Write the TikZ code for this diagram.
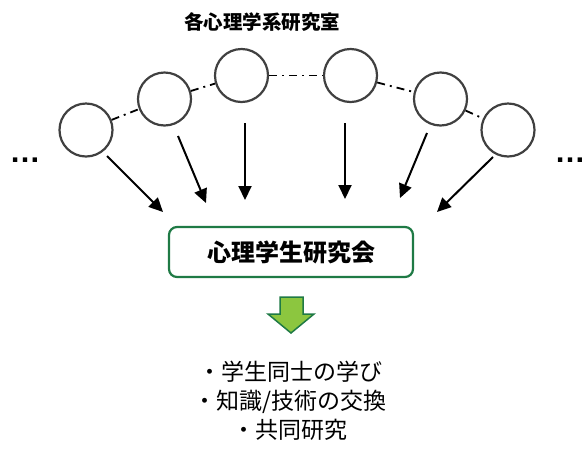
\documentclass[tikz,border=0pt]{standalone}
\usepackage{fontspec}
\setmainfont{Noto Sans CJK JP}
\newfontfamily\dotfont{Liberation Sans}
\usetikzlibrary{arrows.meta}
\definecolor{boxgreen}{HTML}{1F7A45}
\definecolor{arrowfill}{HTML}{8CC63F}
\definecolor{circgray}{HTML}{404040}
\tikzset{
  lab/.style={circle, draw=circgray, line width=2.2pt, minimum size=53pt, inner sep=0pt},
  link/.style={line width=1.8pt, dash pattern=on 8pt off 5pt on 2pt off 5pt},
  feed/.style={line width=2pt, -{Triangle[length=14pt,width=13pt]}},
  hub/.style={draw=boxgreen, line width=2.2pt, rounded corners=8pt, minimum width=244pt, minimum height=50pt, font=\fontsize{24}{28}\selectfont\bfseries},
}
\begin{document}
\begin{tikzpicture}[x=1pt,y=-1pt]
\useasboundingbox (0,0) rectangle (585,448);
\node[font=\fontsize{19.5}{22}\selectfont\bfseries] (title) at (262,22) {各心理学系研究室};
\node[lab] (c1) at (86,130) {};
\node[lab] (c2) at (164.5,99) {};
\node[lab] (c3) at (241.5,75.5) {};
\node[lab] (c4) at (350.5,75.5) {};
\node[lab] (c5) at (440.5,99) {};
\node[lab] (c6) at (508,130) {};
\draw[link] (c1) -- (c2);
\draw[link] (c2) -- (c3);
\draw[link] (c3) -- (c4);
\draw[link] (c4) -- (c5);
\draw[link] (c5) -- (c6);
\node[font=\dotfont\fontsize{31}{31}\selectfont\bfseries] (dl) at (25,160) {…};
\node[font=\dotfont\fontsize{31}{31}\selectfont\bfseries] (dr) at (570,160) {…};
\node[hub] (hub) at (291,252) {心理学生研究会};
\coordinate (s1) at (107,156); \coordinate (e1) at (163,212);
\coordinate (s2) at (178,136); \coordinate (e2) at (206,203);
\coordinate (s3) at (245,123); \coordinate (e3) at (245,200);
\coordinate (s4) at (345,123); \coordinate (e4) at (345,199);
\coordinate (s5) at (427,133); \coordinate (e5) at (400,198);
\coordinate (s6) at (493,157); \coordinate (e6) at (437,212);
\foreach \i in {1,...,6} \draw[feed] (s\i) -- (e\i);
\draw[draw=boxgreen, fill=arrowfill, line width=1.5pt, line join=miter]
  (280,297) -- (303,297) -- (303,314) -- (314,314) -- (291,333) -- (268,314) -- (280,314) -- cycle;
\node[font=\fontsize{23}{29}\selectfont, align=center] (out) at (290,401) {・学生同士の学び\\・知識/技術の交換\\・共同研究};
\end{tikzpicture}
\end{document}
